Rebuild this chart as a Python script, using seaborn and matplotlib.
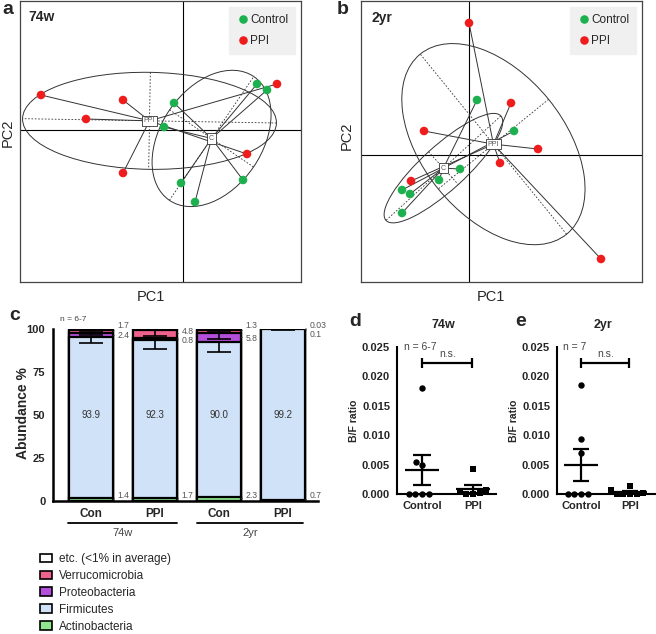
import numpy as np
import pandas as pd
import matplotlib
matplotlib.use("Agg")
import matplotlib.pyplot as plt
import seaborn as sns
from matplotlib.patches import Ellipse, Patch
import matplotlib.transforms as mtransforms

# ---------------- data ----------------
# Panel a (74w) PCA scores
a_ctrl_pc1 = [74, 84, -9, -19, -2, 12, 60]
a_ctrl_pc2 = [46, 40, 27, 3, -53, -72, -50]
a_ppi_pc1 = [-142, -60, -97, -60, 64, 94]
a_ppi_pc2 = [35, 30, 11, -43, -24, 46]
# Panel b (2yr) PCA scores
b_ctrl_pc1 = [8, 45, -9, -30, -67, -59, -67]
b_ctrl_pc2 = [55, 24, -14, -25, -35, -39, -58]
b_ppi_pc1 = [0, 42, -45, 69, 31, -58, 132]
b_ppi_pc2 = [132, 52, 24, 6, -8, -26, -104]

# Panel c: mean relative abundance (%)
bar_groups = ["Con", "PPI", "Con", "PPI"]
age_groups = ["74w", "2yr"]
actino = [1.4, 1.7, 2.3, 0.7]
firmicutes = [93.9, 92.3, 90.0, 99.2]
proteo = [2.4, 0.8, 5.8, 0.1]
verruco = [1.7, 4.8, 1.3, 0.03]
err_firm = [3.3, 5.3, 5.5, 0.3]
err_proteo = [1.0, 0.5, 4.0, 0.1]
err_verruco = [1.2, 3.5, 1.0, 0.05]
actino_lbl = ["1.4", "1.7", "2.3", "0.7"]
proteo_lbl = ["2.4", "0.8", "5.8", "0.1"]
verruco_lbl = ["1.7", "4.8", "1.3", "0.03"]
firm_lbl = ["93.9", "92.3", "90.0", "99.2"]

# Panel d/e: B/F ratio
d_ctrl = [0.0181, 0.0055, 0.0050, 0.0, 0.0, 0.0, 0.0]
d_ppi = [0.0042, 0.0006, 0.0003, 0.0001, 0.0, 0.0]
e_ctrl = [0.0185, 0.0093, 0.0070, 0.0, 0.0, 0.0, 0.0]
e_ppi = [0.0014, 0.0006, 0.0001, 0.0, 0.0, 0.0, 0.0]

GREEN = "#1db04f"
RED = "#ee1c1c"
C_ETC = "#ffffff"
C_VER = "#f0628e"
C_PRO = "#b44fdb"
C_FIR = "#cfe2f7"
C_ACT = "#8fe68f"

sns.set_style("white")
plt.rcParams["font.family"] = ["Liberation Sans", "DejaVu Sans"]

W, H = 656, 634
fig = plt.figure(figsize=(W / 100, H / 100), dpi=100)


def add_ax(l, t, r, b):
    return fig.add_axes([l / W, 1 - b / H, (r - l) / W, (b - t) / H])


def ftext(x, y, s, **kw):
    fig.text(x / W, 1 - y / H, s, **kw)


def s_class(ax, x, y, label):
    x = np.asarray(x, float)
    y = np.asarray(y, float)
    mx, my = x.mean(), y.mean()
    for xi, yi in zip(x, y):
        ax.plot([mx, xi], [my, yi], color="#333333", lw=0.7, zorder=2)
    cov = np.cov(x, y, bias=True)
    vals, vecs = np.linalg.eigh(cov)
    c = 1.5
    ang = np.degrees(np.arctan2(vecs[1, 1], vecs[0, 1]))
    ell = Ellipse((mx, my), width=2 * c * np.sqrt(vals[1]), height=2 * c * np.sqrt(vals[0]),
                  angle=ang, fill=False, ec="#333333", lw=0.7, zorder=2)
    ax.add_patch(ell)
    for k in range(2):
        v = vecs[:, k] * c * np.sqrt(vals[k])
        ax.plot([mx - v[0], mx + v[0]], [my - v[1], my + v[1]], color="#333333",
                lw=0.6, ls=(0, (2, 2)), zorder=2)
    ax.text(mx, my, label, fontsize=5, ha="center", va="center", color="#555555",
            bbox=dict(boxstyle="square,pad=0.25", fc="white", ec="#333333", lw=0.6), zorder=3)


def pca_panel(ax, cx, cy, px, py, xlim, ylim):
    df = pd.DataFrame({"PC1": cx + px, "PC2": cy + py,
                       "group": ["Control"] * len(cx) + ["PPI"] * len(px)})
    ax.axhline(0, color="black", lw=0.8, zorder=1)
    ax.axvline(0, color="black", lw=0.8, zorder=1)
    s_class(ax, px, py, "PPI")
    s_class(ax, cx, cy, "C")
    sns.scatterplot(data=df, x="PC1", y="PC2", hue="group", hue_order=["Control", "PPI"],
                    palette={"Control": GREEN, "PPI": RED}, s=38, edgecolor="none",
                    zorder=4, ax=ax)
    ax.set_xlim(xlim)
    ax.set_ylim(ylim)
    ax.set_xticks([])
    ax.set_yticks([])
    ax.set_xlabel("")
    ax.set_ylabel("")
    for sp in ax.spines.values():
        sp.set_color("#444444")
        sp.set_linewidth(0.9)
    sns.move_legend(ax, "upper right", title=None, frameon=True, facecolor="#f0f0f0",
                    edgecolor="#f0f0f0", framealpha=1, fancybox=False, fontsize=8.5,
                    handletextpad=0.0, labelspacing=0.75, borderpad=0.6,
                    borderaxespad=0.5, handlelength=1.2)


# ---------------- panel a ----------------
ax_a = add_ax(20, 1, 301, 282)
pca_panel(ax_a, a_ctrl_pc1, a_ctrl_pc2, a_ppi_pc1, a_ppi_pc2, (-163, 118), (-152, 129))
ftext(8, 10, "a", fontsize=14, fontweight="bold", ha="center", va="center")
ftext(28, 17, "74w", fontsize=10, fontweight="bold", ha="left", va="center")
ftext(151, 297, "PC1", fontsize=10.5, ha="center", va="center")
ftext(8, 133, "PC2", fontsize=10.5, ha="center", va="center", rotation=90)

# ---------------- panel b ----------------
ax_b = add_ax(361, 1, 642, 282)
pca_panel(ax_b, b_ctrl_pc1, b_ctrl_pc2, b_ppi_pc1, b_ppi_pc2, (-108, 173), (-127, 154))
ftext(343, 10, "b", fontsize=14, fontweight="bold", ha="center", va="center")
ftext(371, 18, "2yr", fontsize=10, fontweight="bold", ha="left", va="center")
ftext(491, 297, "PC1", fontsize=10.5, ha="center", va="center")
ftext(347, 136, "PC2", fontsize=10.5, ha="center", va="center", rotation=90)

# ---------------- panel c ----------------
ax_c = add_ax(53, 329.3, 318, 500.7)
act = np.array(actino)
fir = np.array(firmicutes)
pro = np.array(proteo)
ver = np.array(verruco)
etc = np.clip(100 - (act + fir + pro + ver), 0, None)
cum_act = act
cum_fir = cum_act + fir
cum_pro = cum_fir + pro
cum_ver = cum_pro + ver
cum_etc = cum_ver + etc
bar_ids = ["0", "1", "2", "3"]
BW = 0.69
for top, col in [(cum_etc, C_ETC), (cum_ver, C_VER), (cum_pro, C_PRO),
                 (cum_fir, C_FIR), (cum_act, C_ACT)]:
    sns.barplot(x=bar_ids, y=top, order=bar_ids, color=col, saturation=1, width=BW,
                edgecolor="black", linewidth=1.6, errorbar=None, ax=ax_c, zorder=2)
xs = np.arange(4)
for tops, errs in [(cum_fir, err_firm), (cum_pro, err_proteo), (cum_ver, err_verruco)]:
    ax_c.errorbar(xs, tops, yerr=[errs, np.zeros(4)], fmt="none", ecolor="black",
                  elinewidth=1.2, capsize=8.5, capthick=1.2, zorder=3)
for i in range(4):
    ax_c.text(i, 50, firm_lbl[i], fontsize=7, ha="center", va="center", color="#333333", zorder=4)

lbl_kw = dict(fontsize=6.2, color="#555555", ha="left", va="center",
              arrowprops=dict(arrowstyle="-", lw=0.6, color="#333333", shrinkA=0, shrinkB=0),
              annotation_clip=False)
top_y = [102.4, 99.0, 102.4, 102.4]
sec_y = [96.4, 93.2, 94.9, 96.7]
for i in range(4):
    xr = i + BW / 2
    ax_c.annotate(verruco_lbl[i], xy=(xr, (cum_pro[i] + cum_ver[i]) / 2),
                  xytext=(i + 0.42, top_y[i]), **lbl_kw)
    ax_c.annotate(proteo_lbl[i], xy=(xr, (cum_fir[i] + cum_pro[i]) / 2),
                  xytext=(i + 0.42, sec_y[i]), **lbl_kw)
    ax_c.annotate(actino_lbl[i], xy=(xr, cum_act[i] / 2),
                  xytext=(i + 0.42, 2.8), **lbl_kw)

ax_c.set_xlim(-0.59, 3.55)
ax_c.set_ylim(0, 100)
ax_c.set_yticks([0, 25, 50, 75, 100])
ax_c.set_yticklabels(["0", "25", "50", "75", "100"], fontweight="bold", fontsize=8)
ax_c.set_xticks(xs)
ax_c.set_xticklabels(bar_groups, fontweight="bold", fontsize=8.5)
ax_c.set_xlabel("")
ax_c.set_ylabel("")
sns.despine(ax=ax_c)
for sp in ["left", "bottom"]:
    ax_c.spines[sp].set_linewidth(1.8)
    ax_c.spines[sp].set_color("black")
ax_c.tick_params(axis="both", direction="out", length=4, width=1.5, color="black", pad=1.5)
ax_c.tick_params(axis="x", pad=1)
trans = mtransforms.blended_transform_factory(ax_c.transData, ax_c.transAxes)
for (x0, x1), g in zip([(-0.36, 1.34), (1.66, 3.31)], age_groups):
    ax_c.plot([x0, x1], [-0.13, -0.13], color="black", lw=1.3, transform=trans, clip_on=False)
    ax_c.text((x0 + x1) / 2, -0.19, g, fontsize=8, color="#444444", ha="center",
              va="center", transform=trans)
ax_c.text(-0.48, 106, "n = 6-7", fontsize=6, color="#444444", ha="left", va="center",
          clip_on=False)
ftext(15, 316, "c", fontsize=14, fontweight="bold", ha="center", va="center")
ftext(23, 413, "Abundance %", fontsize=10, fontweight="bold", ha="center", va="center",
      rotation=90)

handles = [Patch(facecolor=c, edgecolor="black", lw=1.2) for c in
           [C_ETC, C_VER, C_PRO, C_FIR, C_ACT]]
labels = ["etc. (<1% in average)", "Verrucomicrobia", "Proteobacteria", "Firmicutes",
          "Actinobacteria"]
fig.legend(handles, labels, loc="upper left", bbox_to_anchor=(40 / W, 1 - 553 / H),
           frameon=False, fontsize=8.5, handlelength=1.0, handleheight=0.75,
           labelspacing=0.42, borderpad=0, handletextpad=0.6, borderaxespad=0)


# ---------------- panels d, e ----------------
def ratio_panel(ax, ctrl, ppi, xlim, ntext):
    df = pd.DataFrame({"group": ["Control"] * len(ctrl) + ["PPI"] * len(ppi),
                       "ratio": ctrl + ppi})
    order = ["Control", "PPI"]
    sns.swarmplot(data=df[df.group == "Control"], x="group", y="ratio", order=order,
                  marker="o", color="black", size=4.6, ax=ax, clip_on=False, zorder=3)
    sns.swarmplot(data=df[df.group == "PPI"], x="group", y="ratio", order=order,
                  marker="s", color="black", size=4.6, ax=ax, clip_on=False, zorder=3)
    for i, g in enumerate(order):
        v = df.loc[df.group == g, "ratio"].to_numpy()
        m = v.mean()
        se = v.std(ddof=1) / np.sqrt(len(v))
        ax.hlines(m, i - 0.34, i + 0.34, color="black", lw=1.6, zorder=4)
        ax.vlines(i, max(m - se, 0), m + se, color="black", lw=1.6, zorder=4)
        ax.hlines([m + se], i - 0.17, i + 0.17, color="black", lw=1.6, zorder=4)
        if m - se > 0:
            ax.hlines([m - se], i - 0.17, i + 0.17, color="black", lw=1.6, zorder=4)
    ax.set_xlim(xlim)
    ax.set_ylim(0, 0.025)
    ax.set_yticks([0, 0.005, 0.010, 0.015, 0.020, 0.025])
    ax.set_yticklabels(["0.000", "0.005", "0.010", "0.015", "0.020", "0.025"],
                       fontweight="bold", fontsize=8)
    ax.set_xticks([0, 1])
    ax.set_xticklabels(order, fontweight="bold", fontsize=8)
    ax.set_xlabel("")
    ax.set_ylabel("B/F ratio", fontweight="bold", fontsize=7.5, labelpad=2)
    sns.despine(ax=ax)
    for sp in ["left", "bottom"]:
        ax.spines[sp].set_linewidth(1.5)
        ax.spines[sp].set_color("black")
    ax.tick_params(axis="both", direction="out", length=3.5, width=1.3, color="black", pad=1.5)
    # significance bracket
    yb = 0.0223
    ax.plot([0, 0.98], [yb, yb], color="black", lw=1.6, clip_on=False)
    ax.vlines([0, 0.98], yb - 0.0008, yb + 0.0008, color="black", lw=1.6, clip_on=False)
    ax.text(0.5, 0.0238, "n.s.", fontsize=7.5, color="#444444", ha="center", va="center")
    ax.text(-0.36, 0.025, ntext, fontsize=7.5, color="#444444", ha="left", va="center",
            clip_on=False)


ax_d = add_ax(397, 347, 496, 494)
ratio_panel(ax_d, d_ctrl, d_ppi, (-0.49, 1.45), "n = 6-7")
ftext(355, 322, "d", fontsize=14, fontweight="bold", ha="center", va="center")
ftext(443, 325, "74w", fontsize=9, fontweight="bold", ha="center", va="center")

ax_e = add_ax(557, 347, 656, 494)
ratio_panel(ax_e, e_ctrl, e_ppi, (-0.49, 1.53), "n = 7")
ftext(521, 322, "e", fontsize=14, fontweight="bold", ha="center", va="center")
ftext(603, 325, "2yr", fontsize=9, fontweight="bold", ha="center", va="center")

fig.savefig("out.png", dpi=100)
